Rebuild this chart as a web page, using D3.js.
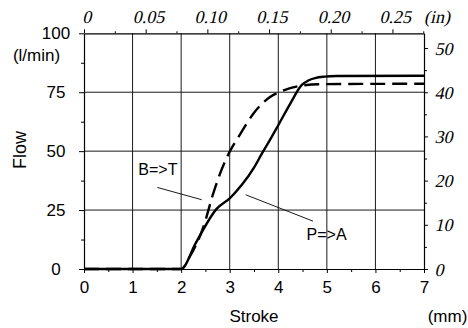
<!DOCTYPE html>
<html>
<head>
<meta charset="utf-8">
<script src="https://cdn.jsdelivr.net/npm/d3@7"></script>
<style>
  html, body { margin: 0; padding: 0; background: #fff; }
  svg { display: block; }
</style>
</head>
<body>
<svg id="chart" width="468" height="328"></svg>
<script>
// ---- data ----
const strokeMM = [0, 2.0, 2.3, 2.73, 3.0, 3.25, 3.5, 3.65, 3.85, 4.0, 4.25, 4.48, 4.62, 4.76, 4.95, 5.2, 7];
const flowPA   = [0, 0, 11, 25.5, 30, 35.7, 43, 48.5, 55.5, 61, 70.3, 78, 80, 81, 81.6, 81.9, 82];

const strokeBT = [0, 2.0, 2.18, 2.46, 2.66, 2.83, 3.0, 3.21, 3.49, 3.83, 4.04, 4.45, 4.86, 7];
const flowBT   = [0, 0, 5.3, 18, 32, 42, 49.8, 57, 66, 73, 75.2, 77.7, 78.4, 78.6];

const xTicks = [0, 1, 2, 3, 4, 5, 6, 7];
const xMinor = [0.5, 1.5, 2.5, 3.5, 4.5, 5.5, 6.5];
const yTicks = [0, 25, 50, 75, 100];
const yMinor = [12.5, 37.5, 62.5, 87.5];
const inTicks = [0, 0.05, 0.10, 0.15, 0.20, 0.25];
const inTickLabels = ["0", "0.05", "0.10", "0.15", "0.20", "0.25"];
const inMinor = [0.025, 0.075, 0.125, 0.175, 0.225, 0.275];
const rTicks = [0, 10, 20, 30, 40, 50];
const rMinor = [5, 15, 25, 35, 45];
const xGrid = [1, 2, 3, 4, 5, 6];
const yGrid = [25, 50, 75];

const labelBT = { text: "B=>T", x: 1.118, y: 40, lx1: 1.509, ly1: 34.6, lx2: 2.423, ly2: 29.4 };
const labelPA = { text: "P=>A", x: 4.583, y: 12.4, lx1: 3.329, ly1: 31.5, lx2: 4.715, ly2: 20.3 };

// ---- layout ----
const SANS = '"Liberation Sans", Arial, Helvetica, sans-serif';
const SERIF = '"Liberation Serif", "Times New Roman", serif';
const W = 468, H = 328;
const m = { left: 84, right: 44, top: 33.3, bottom: 59 };
const x0 = m.left, x1 = W - m.right, y0 = H - m.bottom, y1 = m.top;

const x = d3.scaleLinear().domain([0, 7]).range([x0, x1]);
const y = d3.scaleLinear().domain([0, 100]).range([y0, y1]);
const xIn = d3.scaleLinear().domain([0, 7 / 25.4]).range([x0, x1]);
const yR = d3.scaleLinear().domain([0, 100 * 40 / 75]).range([y0, y1]);

const svg = d3.select("#chart");

function sans(sel, size) { return sel.style("font-family", SANS).style("font-style", "normal").style("font-size", size + "px").attr("fill", "#000"); }
// serif regular face, slanted by a skew (no serif italic face is installed)
function serif(sel, size) { return sel.style("font-family", SERIF).style("font-style", "normal").style("font-size", size + "px").attr("fill", "#000"); }
const SKEW = -13;

// grid
const grid = svg.append("g").attr("stroke", "#1a1a1a").attr("stroke-width", 1);
grid.selectAll(".gx").data(xGrid).join("line")
  .attr("x1", d => x(d)).attr("x2", d => x(d)).attr("y1", y0).attr("y2", y1);
grid.selectAll(".gy").data(yGrid).join("line")
  .attr("x1", x0).attr("x2", x1).attr("y1", d => y(d)).attr("y2", d => y(d));

// curves
const line = d3.line().x(d => x(d[0])).y(d => y(d[1])).curve(d3.curveMonotoneX);
svg.append("path")
  .datum(strokeMM.map((s, i) => [s, flowPA[i]]))
  .attr("d", line).attr("fill", "none").attr("stroke", "#000").attr("stroke-width", 2.4)
  .attr("stroke-linejoin", "round");
svg.append("path")
  .datum(strokeBT.map((s, i) => [s, flowBT[i]]))
  .attr("d", line).attr("fill", "none").attr("stroke", "#000").attr("stroke-width", 2.4)
  .attr("stroke-dasharray", "15,7");

function styleAxis(g) {
  g.select(".domain").attr("stroke", "#000").attr("stroke-width", 1.2);
  g.selectAll(".tick line").attr("stroke", "#000").attr("stroke-width", 1);
}
function minor(g) { g.select(".domain").remove(); g.selectAll("line").attr("stroke", "#000"); }

// bottom
const gB = svg.append("g").attr("transform", `translate(0,${y0})`)
  .call(d3.axisBottom(x).tickValues(xTicks).tickSize(4).tickSizeOuter(0).tickPadding(8).tickFormat(d3.format("d")));
styleAxis(gB);
sans(gB.selectAll("text"), 17);
svg.append("g").attr("transform", `translate(0,${y0})`)
  .call(d3.axisBottom(x).tickValues(xMinor).tickSize(3).tickSizeOuter(0).tickFormat("")).call(minor);

// left
const gL = svg.append("g").attr("transform", `translate(${x0},0)`)
  .call(d3.axisLeft(y).tickValues(yTicks).tickSize(5).tickSizeOuter(0).tickFormat(d3.format("d")));
styleAxis(gL);
sans(gL.selectAll("text"), 17).attr("text-anchor", "middle").attr("x", -28);
svg.append("g").attr("transform", `translate(${x0},0)`)
  .call(d3.axisLeft(y).tickValues(yMinor).tickSize(3).tickSizeOuter(0).tickFormat("")).call(minor);

// top (inches)
const gT = svg.append("g").attr("transform", `translate(0,${y1})`)
  .call(d3.axisTop(xIn).tickValues(inTicks).tickSize(4).tickSizeOuter(0).tickPadding(6)
    .tickFormat((d, i) => inTickLabels[i]));
styleAxis(gT);
serif(gT.selectAll("text"), 18).attr("dy", 0).attr("transform", `skewX(${SKEW})`);
svg.append("g").attr("transform", `translate(0,${y1})`)
  .call(d3.axisTop(xIn).tickValues(inMinor).tickSize(2).tickSizeOuter(0).tickFormat("")).call(minor);

// right
const gR = svg.append("g").attr("transform", `translate(${x1},0)`)
  .call(d3.axisRight(yR).tickValues(rTicks).tickSize(4).tickSizeOuter(0).tickPadding(8).tickFormat(d3.format("d")));
styleAxis(gR);
serif(gR.selectAll("text"), 18).attr("dy", null).attr("y", 6).attr("transform", `skewX(${SKEW})`);
svg.append("g").attr("transform", `translate(${x1},0)`)
  .call(d3.axisRight(yR).tickValues(rMinor).tickSize(3).tickSizeOuter(0).tickFormat("")).call(minor);

// axis titles / units
sans(svg.append("text"), 17).attr("x", 36.5).attr("y", 61).attr("text-anchor", "middle").text("(l/min)");
sans(svg.append("text"), 18).attr("transform", "translate(26,150) rotate(-90)").attr("text-anchor", "middle").text("Flow");
sans(svg.append("text"), 17).attr("x", (x(3) + x(4)) / 2).attr("y", 321.5).attr("text-anchor", "middle").text("Stroke");
sans(svg.append("text"), 17).attr("x", 447.5).attr("y", 321.5).attr("text-anchor", "middle").text("(mm)");
serif(svg.append("text"), 18).attr("transform", `translate(437,23) skewX(${SKEW})`).attr("text-anchor", "middle").text("(in)");

// annotations
[labelBT, labelPA].forEach(a => {
  sans(svg.append("text"), 16).attr("x", x(a.x)).attr("y", y(a.y)).text(a.text);
  svg.append("line").attr("x1", x(a.lx1)).attr("y1", y(a.ly1)).attr("x2", x(a.lx2)).attr("y2", y(a.ly2))
    .attr("stroke", "#000").attr("stroke-width", 0.9);
});
</script>
</body>
</html>
